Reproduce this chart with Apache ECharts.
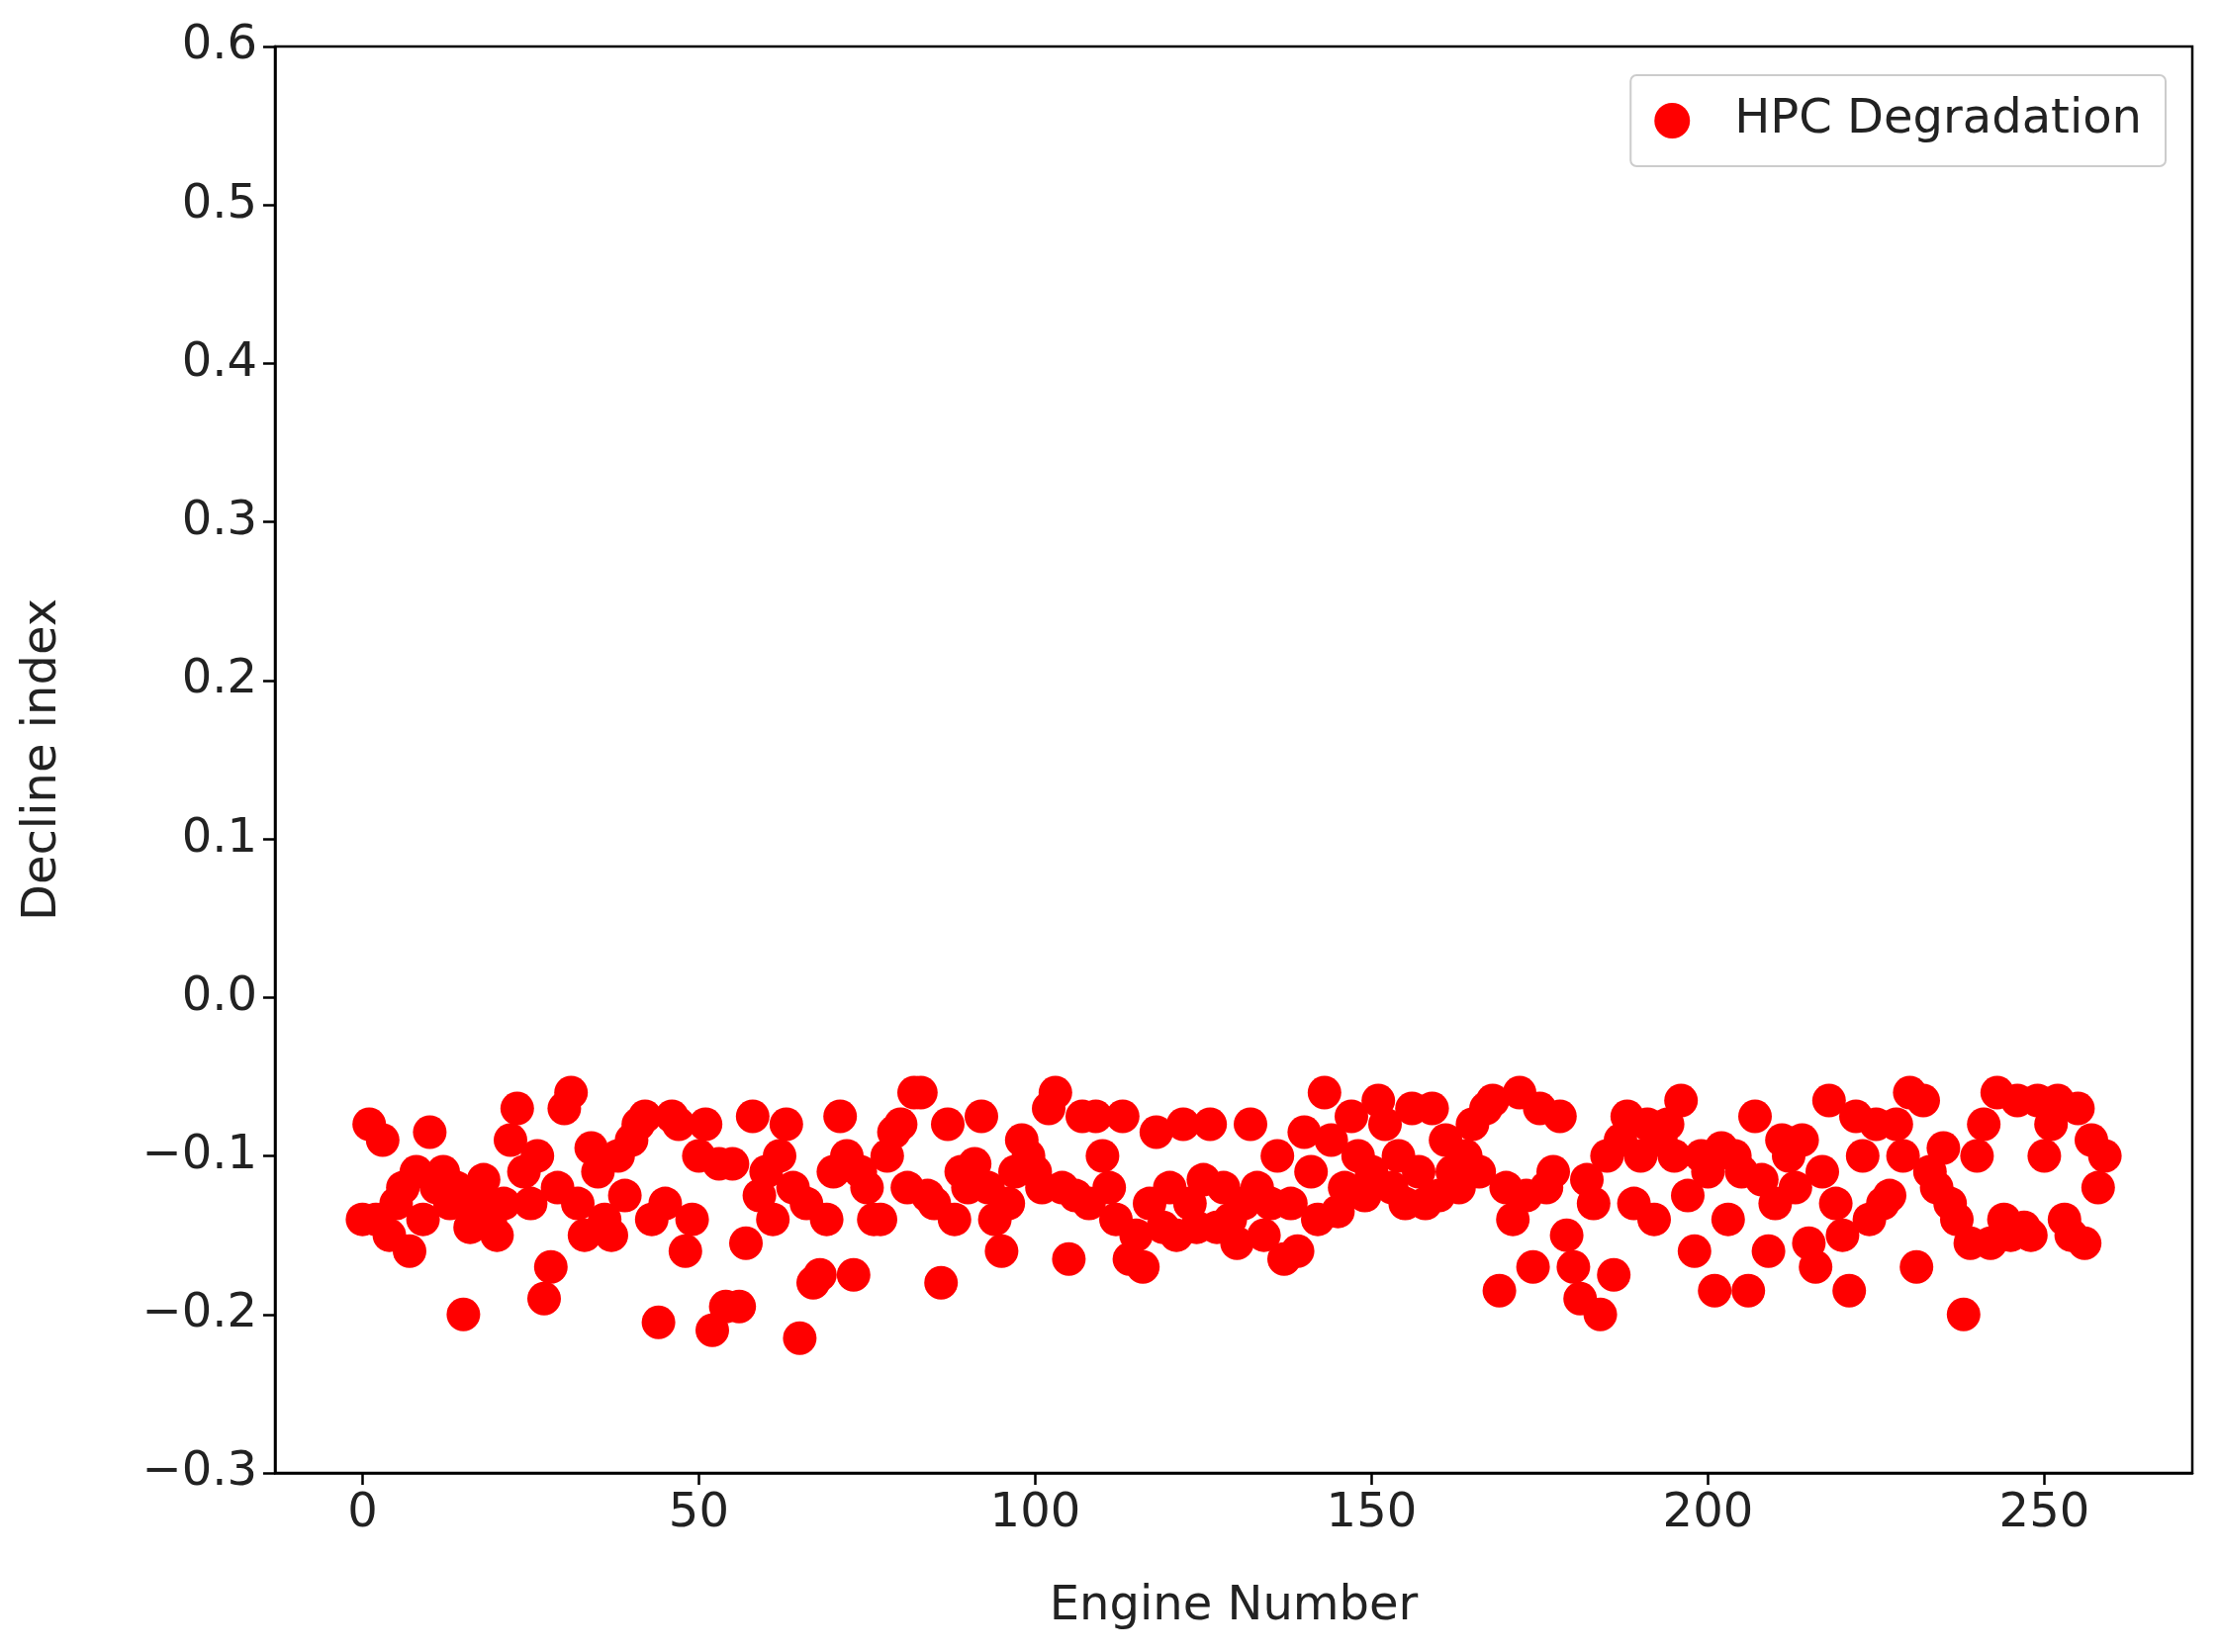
<!DOCTYPE html>
<html><head><meta charset="utf-8">
<script src="https://cdn.jsdelivr.net/npm/echarts@6/dist/echarts.min.js"></script>
<style>html,body{margin:0;background:#fff}#c{width:2245px;height:1670px}</style>
</head><body><div id="c"></div>
<script>
// Decline index per engine
const declineIndex = [
  -0.14,-0.08,-0.14,-0.09,-0.15,-0.13,-0.12,-0.16,-0.11,-0.14,
  -0.085,-0.12,-0.11,-0.13,-0.12,-0.20,-0.145,-0.13,-0.115,-0.14,
  -0.15,-0.13,-0.09,-0.07,-0.11,-0.13,-0.10,-0.19,-0.17,-0.12,
  -0.07,-0.06,-0.13,-0.15,-0.095,-0.11,-0.14,-0.15,-0.10,-0.125,
  -0.09,-0.08,-0.075,-0.14,-0.205,-0.13,-0.075,-0.08,-0.16,-0.14,
  -0.10,-0.08,-0.21,-0.105,-0.195,-0.105,-0.195,-0.155,-0.075,-0.125,
  -0.11,-0.14,-0.10,-0.08,-0.12,-0.215,-0.13,-0.18,-0.175,-0.14,
  -0.11,-0.075,-0.10,-0.175,-0.11,-0.12,-0.14,-0.14,-0.10,-0.085,
  -0.08,-0.12,-0.06,-0.06,-0.125,-0.13,-0.18,-0.08,-0.14,-0.11,
  -0.12,-0.105,-0.075,-0.12,-0.14,-0.16,-0.13,-0.11,-0.09,-0.10,
  -0.11,-0.12,-0.07,-0.06,-0.12,-0.165,-0.125,-0.075,-0.13,-0.075,
  -0.10,-0.12,-0.14,-0.075,-0.165,-0.15,-0.17,-0.13,-0.085,-0.145,
  -0.12,-0.15,-0.08,-0.13,-0.145,-0.115,-0.08,-0.145,-0.12,-0.14,
  -0.155,-0.13,-0.08,-0.12,-0.15,-0.13,-0.10,-0.165,-0.13,-0.16,
  -0.085,-0.11,-0.14,-0.06,-0.09,-0.135,-0.12,-0.075,-0.10,-0.125,
  -0.11,-0.065,-0.08,-0.12,-0.10,-0.13,-0.07,-0.11,-0.13,-0.07,
  -0.125,-0.09,-0.11,-0.12,-0.10,-0.08,-0.11,-0.07,-0.065,-0.185,
  -0.12,-0.14,-0.06,-0.125,-0.17,-0.07,-0.12,-0.11,-0.075,-0.15,
  -0.17,-0.19,-0.115,-0.13,-0.20,-0.10,-0.175,-0.09,-0.075,-0.13,
  -0.10,-0.08,-0.14,-0.09,-0.08,-0.10,-0.065,-0.125,-0.16,-0.10,
  -0.11,-0.185,-0.095,-0.14,-0.10,-0.11,-0.185,-0.075,-0.115,-0.16,
  -0.13,-0.09,-0.10,-0.12,-0.09,-0.155,-0.17,-0.11,-0.065,-0.13,
  -0.15,-0.185,-0.075,-0.10,-0.14,-0.08,-0.13,-0.125,-0.08,-0.10,
  -0.06,-0.17,-0.065,-0.11,-0.12,-0.095,-0.13,-0.14,-0.20,-0.155,
  -0.10,-0.08,-0.155,-0.06,-0.14,-0.15,-0.065,-0.145,-0.15,-0.065,
  -0.10,-0.08,-0.065,-0.14,-0.15,-0.07,-0.155,-0.09,-0.12,-0.10
];
const xTicks = [0, 50, 100, 150, 200, 250];
const points = declineIndex.map((v, i) => [i, v]);

const font = 'DejaVu Sans';
const chart = echarts.init(document.getElementById('c'));
chart.setOption({
  animation: false,
  grid: { left: 278, right: 29, top: 47, bottom: 181 },
  legend: {
    right: 56, top: 76,
    padding: [22, 24, 22, 24],
    itemWidth: 36, itemHeight: 36, itemGap: 10,
    borderColor: '#ccc', borderWidth: 2, borderRadius: 6,
    textStyle: { fontFamily: font, fontSize: 48, color: '#222', padding: [0, 0, 0, 40] },
    data: [{ name: 'HPC Degradation', icon: 'circle' }]
  },
  xAxis: {
    type: 'value', min: -13, max: 272,
    name: 'Engine Number', nameLocation: 'middle', nameGap: 112,
    nameTextStyle: { fontFamily: font, fontSize: 48, color: '#222' },
    axisLine: { onZero: false, lineStyle: { color: '#000', width: 2.5 } },
    axisTick: { show: true, length: 12, customValues: xTicks, lineStyle: { color: '#000', width: 2.5 } },
    axisLabel: { fontFamily: font, fontSize: 48, color: '#222', margin: 18, customValues: xTicks },
    splitLine: { show: false }
  },
  yAxis: {
    type: 'value', min: -0.3, max: 0.6, interval: 0.1,
    name: 'Decline index', nameLocation: 'middle', nameGap: 210,
    nameTextStyle: { fontFamily: font, fontSize: 48, color: '#222' },
    axisLine: { show: true, onZero: false, lineStyle: { color: '#000', width: 2.5 } },
    axisTick: { show: true, length: 12, lineStyle: { color: '#000', width: 2.5 } },
    axisLabel: {
      fontFamily: font, fontSize: 48, color: '#222', margin: 18,
      formatter: v => (v < 0 ? '\u2212' + Math.abs(v).toFixed(1) : v.toFixed(1))
    },
    splitLine: { show: false }
  },
  series: [{
    name: 'HPC Degradation', type: 'scatter', data: points,
    symbolSize: 34, itemStyle: { color: '#ff0000', opacity: 1 }
  }],
  graphic: [{
    type: 'rect', shape: { x: 278, y: 47, width: 1938, height: 1442 },
    style: { fill: 'none', stroke: '#000', lineWidth: 2.5 }, silent: true
  }]
});
</script></body></html>
